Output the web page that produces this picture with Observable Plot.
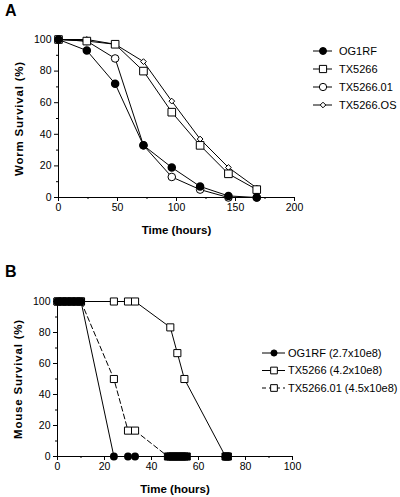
<!DOCTYPE html>
<html>
<head>
<meta charset="utf-8">
<script src="https://cdn.jsdelivr.net/npm/d3@7"></script>
<script src="https://cdn.jsdelivr.net/npm/@observablehq/plot@0.6"></script>
<style>
  html, body { margin: 0; padding: 0; background: white; }
  #wrap { position: relative; width: 400px; height: 497px; background: white; font-family: Arial, "Liberation Sans", sans-serif; overflow: hidden; }
  .panel { position: absolute; left: 0; }
  .plab { position: absolute; left: 5px; font-weight: bold; font-size: 16px; font-family: Arial, "Liberation Sans", sans-serif; }
  g[aria-label="x-axis label"] text, g[aria-label="y-axis label"] text { font-weight: bold; font-size: 11.5px; }
  g[aria-label="y-axis label"] text { letter-spacing: 0.8px; }
  .legend { position: absolute; left: 0; top: 0; }
</style>
</head>
<body>
<div id="wrap">
  <div class="plab" style="top:2px">A</div>
  <div class="plab" style="top:263px">B</div>
</div>
<script>
// ---------- Panel A data (worm survival) ----------
const timesA = [0, 24, 48, 72, 96, 120, 144, 168];
const og1rfA = [100, 93, 72, 33, 19, 7, 1, 0];
const tx5266A = [100, 99, 97, 80, 54, 33, 15, 5];
const tx526601A = [100, 99, 88, 33, 13, 5, 0, 0];
const tx5266osA = [100, 100, 97, 86, 61, 37, 19, 6];
const seriesA = ["OG1RF", "TX5266", "TX5266.01", "TX5266.OS"];
const xTicksA = [0, 50, 100, 150, 200];
const xMinorA = [25, 75, 125, 175];
const yTicks = [0, 20, 40, 60, 80, 100];
const yMinor = [10, 30, 50, 70, 90];

// ---------- Panel B data (mouse survival) ----------
const og1rfBx = [0, 2, 4, 6, 8, 10, 24, 30, 33];
const og1rfBy = [100, 100, 100, 100, 100, 100, 0, 0, 0];
const tx5266Bx = [0, 2, 4, 6, 8, 10, 24, 30, 33, 48, 51, 54, 71.5, 72, 72.5];
const tx5266By = [100, 100, 100, 100, 100, 100, 100, 100, 100, 83.3, 66.7, 50, 0, 0, 0];
const tx526601Bx = [0, 2, 4, 6, 8, 10, 24, 30, 33, 47, 48, 49, 50, 51, 52, 53, 54, 55];
const tx526601By = [100, 100, 100, 100, 100, 100, 50, 16.7, 16.7, 0, 0, 0, 0, 0, 0, 0, 0, 0];
const seriesB = ["OG1RF (2.7x10e8)", "TX5266 (4.2x10e8)", "TX5266.01 (4.5x10e8)"];
const xTicksB = [0, 20, 40, 60, 80, 100];
const xMinorB = [10, 30, 50, 70, 90];

// ---------- build tables ----------
const rowsA = [];
[og1rfA, tx5266A, tx526601A, tx5266osA].forEach((arr, i) =>
  arr.forEach((v, j) => rowsA.push({series: seriesA[i], x: timesA[j], y: v})));
const rowsB = [];
[[og1rfBx, og1rfBy], [tx5266Bx, tx5266By], [tx526601Bx, tx526601By]].forEach(([xs, ys], i) =>
  xs.forEach((v, j) => rowsB.push({series: seriesB[i], x: v, y: ys[j]})));

const font = "Arial, 'Liberation Sans', sans-serif";
const ofS = s => d => d.series === s;
// overlapping end-point squares read as solid black in the original
const sqFill = d => d.y === 0 ? "black" : "white";

function axes(xTicks, xMinor, ylabel) {
  return [
    Plot.axisY({ticks: yTicks, tickSize: 4, tickPadding: 3, label: ylabel, labelAnchor: "center", labelArrow: "none", labelOffset: 44}),
    Plot.axisY({ticks: yMinor, tickSize: 2, tickFormat: () => "", label: null}),
    Plot.axisX({ticks: xTicks, tickSize: 4, tickPadding: 2, label: "Time (hours)", labelAnchor: "center", labelArrow: "none", labelOffset: 36}),
    Plot.axisX({ticks: xMinor, tickSize: 2, tickFormat: () => "", label: null}),
    Plot.ruleY([0], {stroke: "black"}),
    Plot.ruleX([0], {stroke: "black"})
  ];
}

const plotA = Plot.plot({
  width: 400, height: 240,
  marginLeft: 58, marginRight: 106, marginTop: 39, marginBottom: 43,
  x: {domain: [0, 200]},
  y: {domain: [0, 100]},
  style: {fontFamily: font, fontSize: "10.5px", color: "black", background: "transparent", overflow: "visible"},
  marks: [
    ...axes(xTicksA, xMinorA, "Worm Survival (%)"),
    Plot.line(rowsA, {x: "x", y: "y", z: "series", stroke: "black", strokeWidth: 1}),
    Plot.dot(rowsA, {filter: ofS("TX5266.OS"), x: "x", y: "y", symbol: "diamond2", r: 2.6, fill: "white", stroke: "black", strokeWidth: 1}),
    Plot.dot(rowsA, {filter: ofS("TX5266.01"), x: "x", y: "y", symbol: "circle", r: 3.8, fill: "white", stroke: "black", strokeWidth: 1}),
    Plot.dot(rowsA, {filter: ofS("TX5266"), x: "x", y: "y", symbol: "square", r: 4.3, fill: "white", stroke: "black", strokeWidth: 1}),
    Plot.dot(rowsA, {filter: ofS("OG1RF"), x: "x", y: "y", symbol: "circle", r: 3.5, fill: "black", stroke: "black"})
  ]
});
plotA.classList.add("panel");
plotA.style.top = "0px";
document.getElementById("wrap").appendChild(plotA);

const plotB = Plot.plot({
  width: 400, height: 247,
  marginLeft: 57, marginRight: 108, marginTop: 51, marginBottom: 41,
  x: {domain: [0, 100]},
  y: {domain: [0, 100]},
  style: {fontFamily: font, fontSize: "10.5px", color: "black", background: "transparent", overflow: "visible"},
  marks: [
    ...axes(xTicksB, xMinorB, "Mouse Survival (%)"),
    Plot.line(rowsB, {filter: ofS(seriesB[2]), x: "x", y: "y", stroke: "black", strokeWidth: 1, strokeDasharray: "5,3"}),
    Plot.line(rowsB, {filter: ofS(seriesB[1]), x: "x", y: "y", stroke: "black", strokeWidth: 1}),
    Plot.line(rowsB, {filter: ofS(seriesB[0]), x: "x", y: "y", stroke: "black", strokeWidth: 1}),
    Plot.dot(rowsB, {filter: ofS(seriesB[2]), x: "x", y: "y", symbol: "square", r: 4, fill: sqFill, stroke: "black", strokeWidth: 1}),
    Plot.dot(rowsB, {filter: ofS(seriesB[1]), x: "x", y: "y", symbol: "square", r: 4, fill: sqFill, stroke: "black", strokeWidth: 1}),
    Plot.dot(rowsB, {filter: ofS(seriesB[0]), x: "x", y: "y", symbol: "circle", r: 3.2, fill: "black", stroke: "black"})
  ]
});
plotB.classList.add("panel");
plotB.style.top = "250px";
document.getElementById("wrap").appendChild(plotB);

// ---------- legends ----------
const leg = d3.select("#wrap").append("svg").attr("class", "legend")
  .attr("width", 400).attr("height", 497)
  .style("font-family", font).style("font-size", "11px");

const legA = [
  {label: seriesA[0], sym: d3.symbolCircle, size: 38, fill: "black"},
  {label: seriesA[1], sym: d3.symbolSquare, size: 52, fill: "white"},
  {label: seriesA[2], sym: d3.symbolCircle, size: 42, fill: "white"},
  {label: seriesA[3], sym: d3.symbolDiamond2, size: 20, fill: "white"}
];
legA.forEach((d, i) => {
  const y = 51 + i * 18;
  leg.append("line").attr("x1", 313).attr("x2", 332).attr("y1", y).attr("y2", y).attr("stroke", "black");
  leg.append("path").attr("d", d3.symbol(d.sym, d.size)()).attr("transform", `translate(323,${y})`)
    .attr("fill", d.fill).attr("stroke", "black");
  leg.append("text").attr("x", 339).attr("y", y).attr("dy", "0.36em").text(d.label);
});

const legB = [
  {label: seriesB[0], sym: d3.symbolCircle, size: 30, fill: "black", dash: null},
  {label: seriesB[1], sym: d3.symbolSquare, size: 45, fill: "white", dash: null},
  {label: seriesB[2], sym: d3.symbolSquare, size: 45, fill: "white", dash: "4,3"}
];
legB.forEach((d, i) => {
  const y = 353 + i * 17.5;
  const ln = leg.append("line").attr("x1", 262).attr("x2", 285).attr("y1", y).attr("y2", y).attr("stroke", "black");
  if (d.dash) ln.attr("stroke-dasharray", d.dash);
  leg.append("path").attr("d", d3.symbol(d.sym, d.size)()).attr("transform", `translate(274,${y})`)
    .attr("fill", d.fill).attr("stroke", "black");
  leg.append("text").attr("x", 288).attr("y", y).attr("dy", "0.36em").text(d.label);
});
</script>
</body>
</html>
